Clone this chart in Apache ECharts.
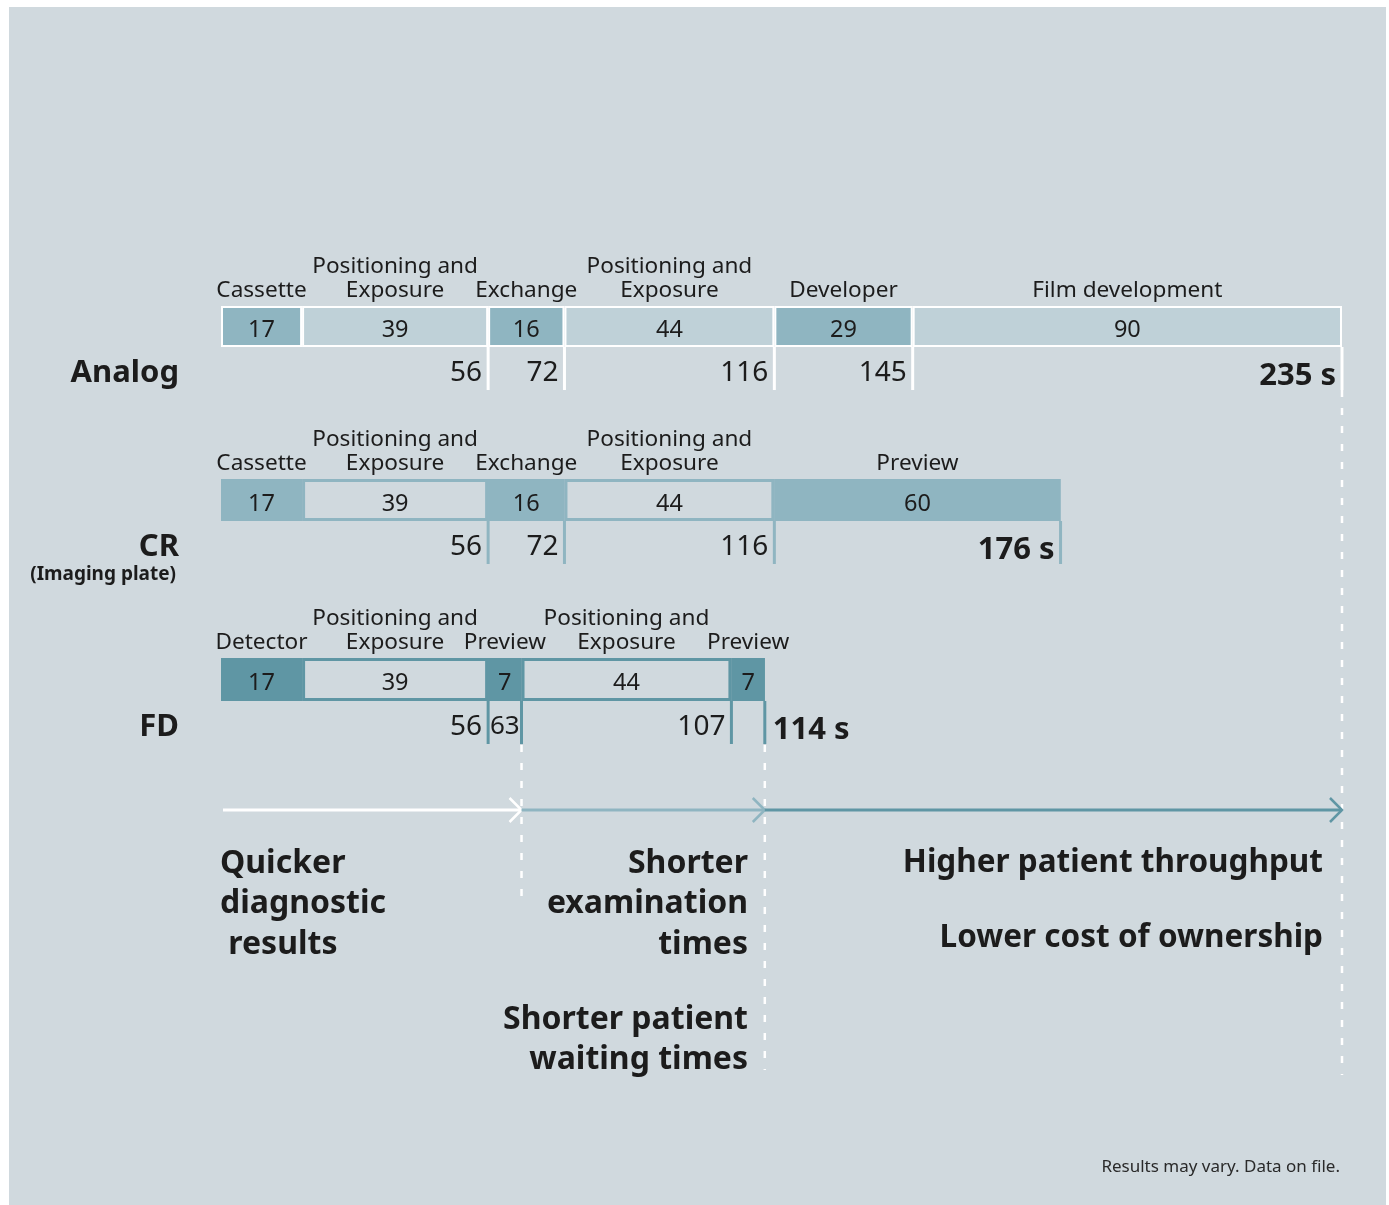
<!DOCTYPE html>
<html>
<head>
<meta charset="utf-8">
<title>Analog vs CR vs FD workflow</title>
<script src="https://cdn.jsdelivr.net/npm/echarts@6/dist/echarts.min.js"></script>
<style>
  html, body { margin: 0; padding: 0; background: #ffffff; }
  #main { width: 1389px; height: 1205px; }
</style>
</head>
<body>
<div id="main"></div>
<script>
"use strict";

// step names and durations (seconds) for each workflow
const analogSteps = ["Cassette", "Positioning and\nExposure", "Exchange", "Positioning and\nExposure", "Developer", "Film development"];
const analogTimes = [17, 39, 16, 44, 29, 90];
const crSteps = ["Cassette", "Positioning and\nExposure", "Exchange", "Positioning and\nExposure", "Preview"];
const crTimes = [17, 39, 16, 44, 60];
const fdSteps = ["Detector", "Positioning and\nExposure", "Preview", "Positioning and\nExposure", "Preview"];
const fdTimes = [17, 39, 7, 44, 7];
const rowNames = ["Analog", "CR", "FD"];
const rowNotes = ["", "(Imaging plate)", ""];
// where the benefit arrows break (seconds)
const benefitStops = [0, 63, 114, 235];

const FONT = '"Noto Sans", "Open Sans", sans-serif';
const INK = "#1c1c1c";
const PANEL = "#d0d9de";

const rowStyles = [
  { dark: "#8fb5c1", light: "#bfd1d8", edge: "#ffffff", tick: "#ffffff", insetDark: 2, insetLight: 2 },
  { dark: "#8fb5c1", light: PANEL, edge: "#8fb5c1", tick: "#8fb5c1", insetDark: 0, insetLight: 3 },
  { dark: "#5f96a4", light: PANEL, edge: "#5f96a4", tick: "#5f96a4", insetDark: 0, insetLight: 3 },
];
const rowGrids = [
  { top: 306, height: 41 },
  { top: 479, height: 42 },
  { top: 658, height: 43 },
];
const arrowColors = ["#ffffff", "#8fb5c1", "#5f96a4"];
const guideSpans = [[745, 905], [745, 1070], [390, 1075]];

const rows = [
  [analogSteps, analogTimes],
  [crSteps, crTimes],
  [fdSteps, fdTimes],
];

function buildSegments(times) {
  let t = 0;
  return times.map((d, i) => {
    const item = [t, t + d, d, i, 0];
    t += d;
    return item;
  });
}

function makeRowRender(r) {
  const st = rowStyles[r];
  const steps = rows[r][0];
  const n = steps.length;
  return function (params, api) {
    const i = api.value(3);
    const x0 = api.coord([api.value(0), 0])[0];
    const x1 = api.coord([api.value(1), 0])[0];
    const cs = params.coordSys;
    const top = cs.y;
    const h = cs.height;
    const bottom = top + h;
    const dark = i % 2 === 0;
    const inset = dark ? st.insetDark : st.insetLight;
    const kids = [];

    kids.push({ type: "rect", shape: { x: x0, y: top, width: x1 - x0, height: h }, style: { fill: st.edge } });
    kids.push({
      type: "rect",
      shape: { x: x0 + inset, y: top + inset, width: x1 - x0 - 2 * inset, height: h - 2 * inset },
      style: { fill: dark ? st.dark : st.light },
    });
    // duration inside the bar
    kids.push({
      type: "text", x: (x0 + x1) / 2, y: top + h / 2 + 4,
      style: { text: String(api.value(2)), fill: INK, font: "23.5px " + FONT, align: "center", verticalAlign: "middle" },
    });
    // step name above
    kids.push({
      type: "text", x: (x0 + x1) / 2, y: top - 3,
      style: { text: steps[i], fill: INK, font: "22.6px " + FONT, align: "center", verticalAlign: "bottom", lineHeight: 24 },
    });
    // tick and running total below
    if (i > 0) {
      kids.push({
        type: "line", shape: { x1: x1, y1: bottom, x2: x1, y2: bottom + 43 },
        style: { stroke: st.tick, lineWidth: 3 },
      });
      const last = i === n - 1;
      const cum = api.value(1);
      const w = x1 - x0;
      const outside = last && w < 80;
      const narrow = !last && w < 45;
      kids.push({
        type: "text",
        x: outside ? x1 + 8 : (narrow ? (x0 + x1) / 2 : x1 - 6),
        y: bottom + (last ? 29 : 26),
        style: {
          text: last ? cum + " s" : String(cum),
          fill: INK,
          font: (last ? "bold 31px " : (narrow ? "26px " : "28px ")) + FONT,
          align: outside ? "left" : (narrow ? "center" : "right"),
          verticalAlign: "middle",
        },
      });
    } else {
      kids.push({
        type: "text", x: cs.x - 42, y: bottom + 26,
        style: { text: rowNames[r], fill: INK, font: "bold 31px " + FONT, align: "right", verticalAlign: "middle" },
      });
      if (rowNotes[r]) {
        kids.push({
          type: "text", x: cs.x - 45, y: bottom + 54,
          style: { text: rowNotes[r], fill: INK, font: "bold 19px " + FONT, align: "right", verticalAlign: "middle" },
        });
      }
    }
    return { type: "group", children: kids };
  };
}

function renderArrow(params, api) {
  const i = api.value(2);
  const x0 = api.coord([api.value(0), 0])[0];
  const x1 = api.coord([api.value(1), 0])[0];
  const y = params.coordSys.y + params.coordSys.height / 2;
  const span = guideSpans[i];
  return {
    type: "group",
    children: [
      {
        type: "line", shape: { x1: x1, y1: span[0], x2: x1, y2: span[1] },
        style: { stroke: "#ffffff", lineWidth: 2.5, lineDash: [7, 11] },
      },
      {
        type: "line", shape: { x1: x0 + (i === 0 ? 2 : 0), y1: y, x2: x1, y2: y },
        style: { stroke: arrowColors[i], lineWidth: 3 },
      },
      {
        type: "polyline", shape: { points: [[x1 - 12, y - 12], [x1, y], [x1 - 12, y + 12]] },
        style: { stroke: arrowColors[i], lineWidth: 2.5, fill: null },
      },
    ],
  };
}

const grids = [];
const xAxes = [];
const yAxes = [];
const series = [];

rows.forEach((row, r) => {
  grids.push({ left: 221, right: 47, top: rowGrids[r].top, height: rowGrids[r].height });
  xAxes.push({ type: "value", gridIndex: r, min: 0, max: 235, show: false });
  yAxes.push({ type: "category", gridIndex: r, data: [rowNames[r]], show: false });
  series.push({
    type: "custom",
    name: rowNames[r],
    xAxisIndex: r,
    yAxisIndex: r,
    encode: { x: [0, 1], y: 4 },
    renderItem: makeRowRender(r),
    data: buildSegments(row[1]),
  });
});

grids.push({ left: 221, right: 47, top: 790, height: 40 });
xAxes.push({ type: "value", gridIndex: 3, min: 0, max: 235, show: false });
yAxes.push({ type: "category", gridIndex: 3, data: ["benefit"], show: false });
series.push({
  type: "custom",
  name: "benefits",
  xAxisIndex: 3,
  yAxisIndex: 3,
  encode: { x: [0, 1], y: 3 },
  renderItem: renderArrow,
  data: benefitStops.slice(1).map((s, i) => [benefitStops[i], s, i, 0]),
});

function label(text, x, y, align, size, bold) {
  return {
    type: "text",
    x: x, y: y,
    style: {
      text: text,
      fill: INK,
      font: (bold ? "bold " : "") + size + "px " + FONT,
      textAlign: align, align: align,
      textVerticalAlign: "middle", verticalAlign: "middle",
      lineHeight: 40.5,
    },
  };
}

let chartDom = document.getElementById("main");
let myChart = echarts.init(chartDom);

let option = {
  animation: false,
  backgroundColor: "#ffffff",
  grid: grids,
  xAxis: xAxes,
  yAxis: yAxes,
  graphic: [
    { type: "rect", z: -100, shape: { x: 9, y: 7, width: 1377, height: 1198 }, style: { fill: PANEL } },
    label("Quicker\ndiagnostic\n results", 220, 904, "left", 32, true),
    label("Shorter\nexamination\ntimes", 748, 904, "right", 32, true),
    label("Shorter patient\nwaiting times", 748, 1040, "right", 32, true),
    label("Higher patient throughput", 1323, 863, "right", 31.5, true),
    label("Lower cost of ownership", 1323, 938, "right", 31.5, true),
    {
      type: "text", x: 1340, y: 1167,
      style: {
        text: "Results may vary. Data on file.", fill: "#2a2a2a", font: "17px " + FONT,
        textAlign: "right", align: "right", textVerticalAlign: "middle", verticalAlign: "middle",
      },
    },
  ],
  series: series,
};

option && myChart.setOption(option);
</script>
</body>
</html>
